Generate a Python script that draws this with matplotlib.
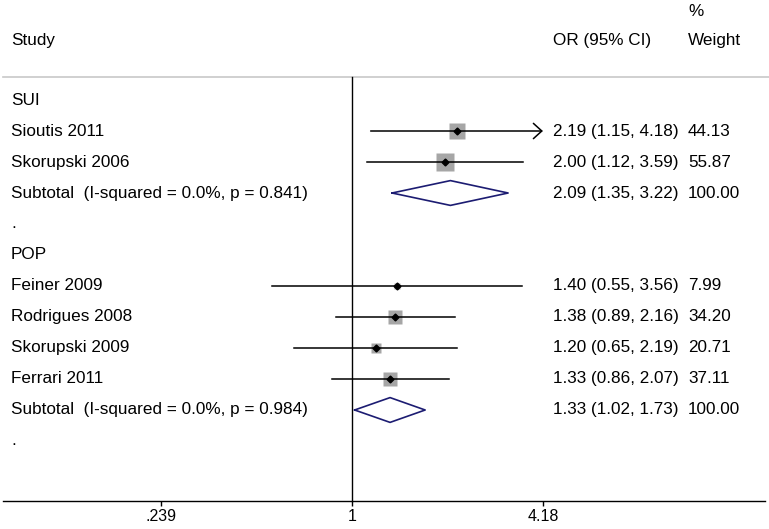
"""Forest plot of odds ratios by subgroup (SUI / POP)."""

import matplotlib.pyplot as plt
import numpy as np
from matplotlib.transforms import blended_transform_factory

plt.rcParams["font.family"] = ["Liberation Sans", "DejaVu Sans"]

# data
groups = ["SUI", "POP"]
studies = [
    ["Sioutis 2011", "Skorupski 2006"],
    ["Feiner 2009", "Rodrigues 2008", "Skorupski 2009", "Ferrari 2011"],
]
odds = [[2.19, 2.00], [1.40, 1.38, 1.20, 1.33]]
ci_low = [[1.15, 1.12], [0.55, 0.89, 0.65, 0.86]]
ci_high = [[4.18, 3.59], [3.56, 2.16, 2.19, 2.07]]
weights = [[44.13, 55.87], [7.99, 34.20, 20.71, 37.11]]
sub_labels = ["Subtotal  (I-squared = 0.0%, p = 0.841)",
              "Subtotal  (I-squared = 0.0%, p = 0.984)"]
sub_odds = [2.09, 1.33]
sub_low = [1.35, 1.02]
sub_high = [3.22, 1.73]
tick_vals = [0.239, 1, 4.18]
tick_labels = [".239", "1", "4.18"]
axis_max = 4.18

fig = plt.figure(figsize=(7.69, 5.29), dpi=100)
ax = fig.add_axes([0, 0, 1, 1])
ax.set_xscale("log")
ax.set_xlim(0.0716, 22.73)
ax.set_ylim(13.839, -3.226)
ax.axis("off")

tr = blended_transform_factory(ax.transAxes, ax.transData)
fs = 12.3
x_lab, x_or, x_wt = 11 / 769, 553 / 769, 688 / 769

# headers
ax.text(x_lab, -1.935, "Study", transform=tr, fontsize=fs, va="center")
ax.text(x_or, -1.935, "OR (95% CI)", transform=tr, fontsize=fs, va="center")
ax.text(x_wt, -1.935, "Weight", transform=tr, fontsize=fs, va="center")
ax.text(x_wt, -2.84, "%", transform=tr, fontsize=fs, va="center")
ax.plot([0.004, 1], [-0.742, -0.742], transform=tr, color="#c8c8c8", lw=1.2)

# null line and x axis
axis_y = 12.935
ax.plot([1, 1], [-0.742, axis_y], color="black", lw=1)
ax.plot([0.004, 0.995], [axis_y, axis_y], transform=tr, color="black", lw=1)
ax.vlines(tick_vals, axis_y, axis_y + 0.17, color="black", lw=1)
for v, lab in zip(tick_vals, tick_labels):
    ax.text(v, 13.42, lab, fontsize=11.5, ha="center", va="center")

row = 0
for g in range(len(groups)):
    ax.text(x_lab, row, groups[g], transform=tr, fontsize=fs, va="center")
    row += 1
    for name, o, lo, hi, w in zip(studies[g], odds[g], ci_low[g],
                                  ci_high[g], weights[g]):
        ax.text(x_lab, row, name, transform=tr, fontsize=fs, va="center")
        side = 2.37 * np.sqrt(w) * 0.72
        ax.plot(o, row, marker="s", ms=side, color="#a6a6a6", mec="none",
                zorder=2)
        if hi >= axis_max:
            ax.annotate("", xy=(axis_max, row), xytext=(lo, row),
                        arrowprops=dict(arrowstyle="->,head_length=0.55,head_width=0.5",
                                        lw=1.1, color="black",
                                        mutation_scale=11, shrinkA=0, shrinkB=0),
                        zorder=3)
        else:
            ax.plot([lo, hi], [row, row], color="black", lw=1.1, zorder=3)
        ax.plot(o, row, marker="D", ms=3.5, color="black", zorder=4)
        ax.text(x_or, row, f"{o:.2f} ({lo:.2f}, {hi:.2f})", transform=tr,
                fontsize=fs, va="center")
        ax.text(x_wt, row, f"{w:.2f}", transform=tr, fontsize=fs, va="center")
        row += 1

    # subtotal diamond
    h = 0.40
    xs = [sub_low[g], sub_odds[g], sub_high[g], sub_odds[g], sub_low[g]]
    ys = [row, row - h, row, row + h, row]
    ax.plot(xs, ys, color="#1c1c72", lw=1.2)
    ax.text(x_lab, row, sub_labels[g], transform=tr, fontsize=fs, va="center")
    ax.text(x_or, row,
            f"{sub_odds[g]:.2f} ({sub_low[g]:.2f}, {sub_high[g]:.2f})",
            transform=tr, fontsize=fs, va="center")
    ax.text(x_wt, row, "100.00", transform=tr, fontsize=fs, va="center")
    row += 1
    ax.text(x_lab, row, ".", transform=tr, fontsize=fs, va="center")
    row += 1

fig.savefig("out.png", dpi=100)
